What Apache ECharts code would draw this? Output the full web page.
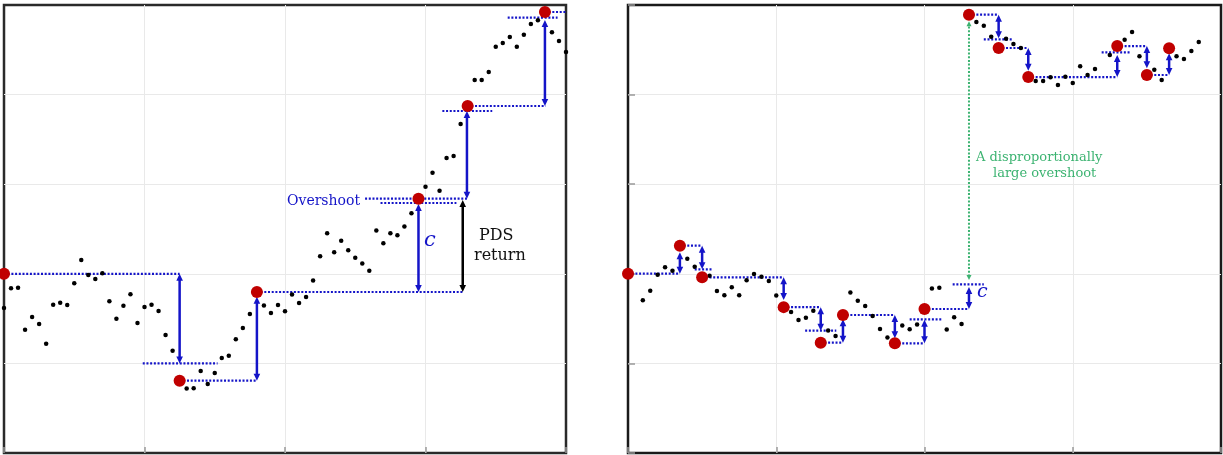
<!DOCTYPE html>
<html><head><meta charset="utf-8">
<script src="https://cdn.jsdelivr.net/npm/echarts/dist/echarts.min.js"></script>
<style>html,body{margin:0;padding:0;background:#fff}#chart{width:1223px;height:455px}</style>
</head><body><div id="chart"></div>
<script>
// ---------- LEFT PANEL DATA (x = time index, y = price units) ----------
const leftPrice = [16.18, 18.38, 18.45, 13.76, 15.18, 14.40, 12.20, 16.55, 16.77, 16.52,
  18.94, 21.54, 19.87, 19.42, 20.06, 16.93, 14.99, 16.44, 17.71, 14.51,
  16.29, 16.55, 15.85, 13.17, 11.42, 8.07, 7.20, 7.22, 9.15, 7.70,
  8.93, 10.60, 10.86, 12.69, 13.95, 15.51, 17.97, 16.46, 15.63, 16.52,
  15.81, 17.69, 16.74, 17.41, 19.25, 21.95, 24.52, 22.41, 23.69, 22.63,
  21.80, 21.15, 20.33, 24.83, 23.42, 24.52, 24.30, 25.28, 26.75, 28.38,
  29.72, 31.28, 29.27, 32.92, 33.15, 36.72, 38.73, 41.63, 41.63, 42.52,
  45.35, 45.76, 46.43, 45.35, 46.69, 47.88, 48.29, 49.22, 46.95, 45.98, 44.75];
const leftDCIndex = [0, 25, 36, 59, 66, 77];
const leftDCPrice = [20.0, 8.07, 17.97, 28.38, 38.73, 49.22];
// [xStart, xEnd, level]
const leftLevelLines = [[0, 25, 20.0], [25, 36, 8.07], [36, 65.3, 17.97], [51.4, 65.9, 28.38], [66, 77.1, 38.73], [77, 80, 49.22]];
const leftThresholdLines = [[19.75, 30.4, 10.0], [53.6, 64.4, 27.9], [62.4, 69.5, 38.17], [71.7, 78.8, 48.58]];
// [x, fromLevel, toLevel]
const leftArrows = [[25, 20.0, 10.0], [36, 8.07, 17.44], [59, 17.97, 27.79], [65.9, 28.38, 38.17], [77, 38.73, 48.33]];
const leftPdsArrow = [[65.3, 17.97, 28.24]];

// ---------- RIGHT PANEL DATA ----------
const rightPrice = [20.01, null, 17.04, 18.11, 19.90, 20.73, 20.35, 23.14, 21.69, 20.79,
  19.61, 19.79, 18.08, 17.60, 18.49, 17.61, 19.27, 19.98, 19.67, 19.19,
  17.58, 16.28, 15.73, 14.84, 15.10, 15.87, 12.31, 13.67, 13.06, 15.40,
  17.91, 17.00, 16.41, 15.29, 13.84, 12.89, 12.24, 14.23, 13.81, 14.34,
  16.07, 18.36, 18.44, 13.78, 15.15, 14.40, 48.92, 48.10, 47.69, 46.46,
  45.20, 46.24, 45.65, 45.20, 41.96, 41.52, 41.52, 41.93, 41.07, 42.00,
  41.29, 43.16, 42.19, 42.86, null, 44.42, 45.42, 46.13, 46.99, 44.27,
  42.19, 42.78, 41.63, 45.17, 44.27, 43.97, 44.87, 45.87];
const rightDCIndex = [0, 7, 10, 21, 26, 29, 36, 40, 46, 50, 54, 66, 70, 73];
const rightDCPrice = [20.01, 23.14, 19.61, 16.28, 12.31, 15.40, 12.24, 16.07, 48.92, 45.20, 41.96, 45.42, 42.19, 45.17];
const rightLevelLines = [[0, 7, 20.01], [7, 10, 23.14], [10, 21, 19.61], [21, 26, 16.28], [26, 29, 12.31],
  [29, 36, 15.40], [36, 40, 12.24], [40, 46, 16.07], [46, 50, 48.92], [50, 54, 45.20],
  [54, 66, 41.96], [66, 70, 45.42], [70, 73, 42.19]];
const rightThresholdLines = [[9.0, 11.4, 20.50], [23.9, 28.1, 13.65], [38.0, 42.3, 14.92], [43.8, 48.0, 18.83],
  [48.0, 51.9, 46.17], [63.9, 67.8, 44.72]];
const rightArrows = [[7, 20.01, 22.40], [10, 23.14, 20.50], [21, 19.61, 17.08], [26, 16.28, 13.65],
  [29, 12.31, 14.94], [36, 15.40, 12.80], [40, 12.24, 14.87], [46, 16.07, 18.53],
  [50, 48.92, 46.30], [54, 45.20, 42.67], [66, 41.96, 44.42], [70, 45.42, 42.94], [73, 42.19, 44.61]];
const rightOvershootArrow = [[46, 19.31, 48.2]];

// axis ticks
const xTicks = { min: 0, max: 80, interval: 20 };
const yTicks = { min: 0, max: 50, interval: 10 };

// ---------- STYLE ----------
const BLUE = '#1414c8';
const RED = '#c00000';
const GREEN = '#3cb371';
const DASH = [2, 1.7];

function pts(arr) { return arr.map((v, i) => v == null ? null : [i, v]).filter(Boolean); }
function zipPts(xs, ys) { return xs.map((x, i) => [x, ys[i]]); }

function hlineRender(params, api) {
  const a = api.coord([api.value(0), api.value(2)]);
  const b = api.coord([api.value(1), api.value(2)]);
  return { type: 'line', shape: { x1: a[0], y1: a[1], x2: b[0], y2: b[1] },
    style: { stroke: BLUE, lineWidth: 2.2, lineDash: DASH } };
}
function arrowRender(color, dashed, hl, hw, lw) {
  return function (params, api) {
    const x = api.value(0);
    const a = api.coord([x, api.value(1)]);
    const b = api.coord([x, api.value(2)]);
    const d = b[1] > a[1] ? 1 : -1;
    return { type: 'group', children: [
      { type: 'line', shape: { x1: a[0], y1: a[1] + d * hl * 0.7, x2: b[0], y2: b[1] - d * hl * 0.7 },
        style: { stroke: color, lineWidth: lw, lineDash: dashed ? DASH : null } },
      { type: 'polygon', shape: { points: [[b[0], b[1]], [b[0] - hw, b[1] - d * hl], [b[0] + hw, b[1] - d * hl]] }, style: { fill: color } },
      { type: 'polygon', shape: { points: [[a[0], a[1]], [a[0] - hw, a[1] + d * hl], [a[0] + hw, a[1] + d * hl]] }, style: { fill: color } }
    ] };
  };
}

function xAxisCfg(idx, showTicks) {
  return { type: 'value', gridIndex: idx, min: xTicks.min, max: xTicks.max, interval: xTicks.interval,
    axisLabel: { show: false }, axisLine: { show: false },
    axisTick: { show: showTicks, inside: true, length: 6, lineStyle: { color: '#999', width: 1.5 } },
    splitLine: { show: true, showMinLine: false, showMaxLine: false, lineStyle: { color: '#e9e9e9', width: 1 } } };
}
function yAxisCfg(idx, showTicks) {
  return { type: 'value', gridIndex: idx, min: yTicks.min, max: yTicks.max, interval: yTicks.interval,
    axisLabel: { show: false }, axisLine: { show: false },
    axisTick: { show: showTicks, inside: true, length: 7, lineStyle: { color: '#999', width: 1.5 } },
    splitLine: { show: true, showMinLine: false, showMaxLine: false, lineStyle: { color: '#e9e9e9', width: 1 } } };
}

function panelSeries(i, price, dcX, dcY, levels, thresholds, arrows) {
  return [
    { type: 'custom', xAxisIndex: i, yAxisIndex: i, z: 2, renderItem: hlineRender, data: levels.concat(thresholds) },
    { type: 'custom', xAxisIndex: i, yAxisIndex: i, z: 3, renderItem: arrowRender(BLUE, false, 7, 3.3, 2.5), data: arrows },
    { type: 'scatter', xAxisIndex: i, yAxisIndex: i, z: 4, symbolSize: 4.5, itemStyle: { color: '#000', opacity: 1 }, data: pts(price) },
    { type: 'scatter', xAxisIndex: i, yAxisIndex: i, z: 5, symbolSize: 12, itemStyle: { color: RED, opacity: 1 }, data: zipPts(dcX, dcY) }
  ];
}

const textFont = '"DejaVu Serif", serif';
const option = {
  animation: false,
  grid: [
    { left: 4, top: 5, width: 562, height: 448, show: true, borderColor: '#2a2a2a', borderWidth: 2.5, backgroundColor: '#fff' },
    { left: 628, top: 5, width: 593, height: 448, show: true, borderColor: '#1a1a1a', borderWidth: 2.5, backgroundColor: '#fff' }
  ],
  xAxis: [xAxisCfg(0, true), xAxisCfg(1, true)],
  yAxis: [yAxisCfg(0, false), yAxisCfg(1, true)],
  series: [
    ...panelSeries(0, leftPrice, leftDCIndex, leftDCPrice, leftLevelLines, leftThresholdLines, leftArrows),
    { type: 'custom', xAxisIndex: 0, yAxisIndex: 0, z: 3, renderItem: arrowRender('#000', false, 7, 3.3, 2.5), data: leftPdsArrow },
    ...panelSeries(1, rightPrice, rightDCIndex, rightDCPrice, rightLevelLines, rightThresholdLines, rightArrows),
    { type: 'custom', xAxisIndex: 1, yAxisIndex: 1, z: 3, renderItem: arrowRender(GREEN, true, 5, 2.5, 2), data: rightOvershootArrow }
  ],
  graphic: [
    { type: 'text', left: 287, top: 194, z: 10, style: { text: 'Overshoot', fill: BLUE, font: '14px ' + textFont } },
    { type: 'text', left: 424, top: 230, z: 10, style: { text: 'c', fill: BLUE, font: 'italic 21px ' + textFont } },
    { type: 'text', left: 479, top: 228, z: 10, style: { text: 'PDS', fill: '#111', font: '16px ' + textFont } },
    { type: 'text', left: 474, top: 248, z: 10, style: { text: 'return', fill: '#111', font: '16px ' + textFont } },
    { type: 'text', left: 977, top: 283, z: 10, style: { text: 'c', fill: BLUE, font: 'italic 19px ' + textFont } },
    { type: 'text', left: 976, top: 151, z: 10, style: { text: 'A disproportionally', fill: GREEN, font: '13px ' + textFont } },
    { type: 'text', left: 993, top: 167, z: 10, style: { text: 'large overshoot', fill: GREEN, font: '13px ' + textFont } }
  ]
};
const chart = echarts.init(document.getElementById('chart'), null, { renderer: 'canvas' });
chart.setOption(option);
</script>
</body></html>
